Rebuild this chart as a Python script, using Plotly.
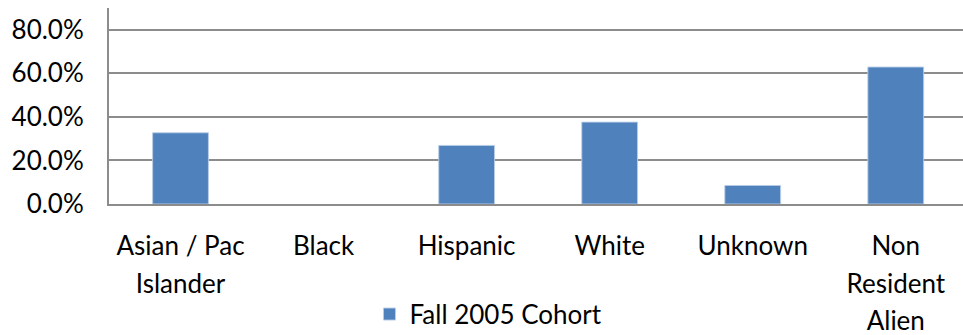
import plotly.graph_objects as go

# Share of each group in the Fall 2005 cohort
category_lines = [["Asian / Pac", "Islander"], ["Black"], ["Hispanic"], ["White"],
                  ["Unknown"], ["Non", "Resident", "Alien"]]
cohort_2005 = [0.327, 0.0, 0.269, 0.376, 0.085, 0.629]
y_ticks = [0.0, 0.2, 0.4, 0.6, 0.8]

FONT = "Lato"
TEXT_SIZE = 26
BAR_BLUE = "#4f81bd"
GRID_GREY = "#8c8c8c"

# Tick labels: text at TEXT_SIZE, while the larger base size sets a looser line spacing
categories = ["<br>".join(f'<span style="font-size:{TEXT_SIZE}px">{s}</span>' for s in lines)
              for lines in category_lines]

fig = go.Figure()
fig.add_trace(go.Bar(
    x=list(range(len(categories))),
    y=cohort_2005,
    name="Fall 2005 Cohort",
    width=0.39,
    marker=dict(
        color=BAR_BLUE,
        line=dict(color="rgba(185,205,229,0.9)",
                  width=[1 if v > 0 else 0 for v in cohort_2005]),
    ),
))

fig.update_layout(
    width=963,
    height=335,
    margin=dict(l=109, r=0, t=8, b=131, autoexpand=False),
    paper_bgcolor="white",
    plot_bgcolor="white",
    font=dict(family=FONT, size=TEXT_SIZE, color="black"),
    showlegend=True,
    legend=dict(
        orientation="h",
        x=0.305, xanchor="left",
        y=-0.562, yanchor="middle",
        font=dict(family=FONT, size=TEXT_SIZE, color="black"),
        itemwidth=30,
        bgcolor="rgba(0,0,0,0)",
    ),
)

fig.update_xaxes(
    range=[-0.5, 5.47],
    tickmode="array",
    tickvals=list(range(len(categories))),
    ticktext=categories,
    tickfont=dict(family=FONT, size=29, color="black"),
    showgrid=False,
    showline=True,
    linecolor=GRID_GREY,
    linewidth=2,
    ticks="",
    ticklabelstandoff=14,
    zeroline=False,
    automargin=False,
    fixedrange=True,
)

fig.update_yaxes(
    range=[0, 0.9],
    tickmode="array",
    tickvals=y_ticks,
    tickformat=".1%",
    showgrid=True,
    gridcolor=GRID_GREY,
    gridwidth=2,
    showline=True,
    linecolor=GRID_GREY,
    linewidth=2,
    ticks="",
    ticklabelstandoff=18,
    zeroline=False,
    automargin=False,
    fixedrange=True,
)

fig.write_html("out.html", config={"displayModeBar": False})
